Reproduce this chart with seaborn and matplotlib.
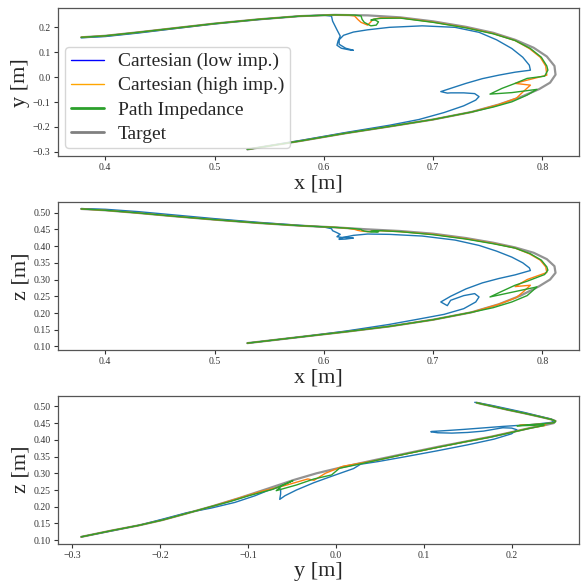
import matplotlib
matplotlib.use("Agg")
import matplotlib.pyplot as plt
from matplotlib.lines import Line2D
from matplotlib.ticker import MultipleLocator
import seaborn as sns

# target trajectory
target_x = [0.378, 0.400, 0.430, 0.460, 0.500, 0.540, 0.578, 0.610, 0.640, 0.670, 0.700, 0.730, 0.755, 0.775,
            0.792, 0.804, 0.811, 0.812, 0.807, 0.797, 0.780, 0.760, 0.735, 0.700, 0.660, 0.620, 0.580, 0.530]
target_y = [0.160, 0.166, 0.180, 0.195, 0.215, 0.232, 0.245, 0.250, 0.248, 0.240, 0.224, 0.202, 0.178, 0.150,
            0.118, 0.083, 0.045, 0.010, -0.022, -0.048, -0.080, -0.110, -0.140, -0.170, -0.198, -0.225, -0.255, -0.290]
target_z = [0.511, 0.507, 0.499, 0.490, 0.479, 0.469, 0.461, 0.456, 0.450, 0.445, 0.437, 0.424, 0.410, 0.396,
            0.380, 0.361, 0.340, 0.320, 0.300, 0.280, 0.252, 0.226, 0.202, 0.180, 0.160, 0.144, 0.129, 0.110]

# Cartesian, low impedance
low_x = [0.378, 0.400, 0.430, 0.460, 0.500, 0.540, 0.578, 0.600,
         0.607, 0.608, 0.612, 0.615, 0.613, 0.612, 0.616, 0.624, 0.627,
         0.620, 0.614, 0.614, 0.618, 0.627, 0.640, 0.660, 0.690, 0.720, 0.742, 0.758, 0.772, 0.782, 0.788, 0.789,
         0.775, 0.760, 0.745, 0.730, 0.716, 0.707, 0.713, 0.716, 0.728, 0.738, 0.742, 0.739, 0.728, 0.710,
         0.687, 0.660, 0.620, 0.580, 0.530]
low_y = [0.158, 0.163, 0.177, 0.193, 0.214, 0.231, 0.245, 0.249,
         0.245, 0.225, 0.190, 0.165, 0.145, 0.128, 0.116, 0.109, 0.108,
         0.116, 0.132, 0.150, 0.168, 0.181, 0.190, 0.200, 0.206, 0.200, 0.180, 0.150, 0.115, 0.080, 0.048, 0.028,
         0.020, 0.008, -0.006, -0.025, -0.045, -0.058, -0.064, -0.063, -0.063, -0.066, -0.078, -0.092, -0.115, -0.142,
         -0.170, -0.193, -0.222, -0.253, -0.290]
low_z = [0.512, 0.510, 0.503, 0.494, 0.482, 0.471, 0.462, 0.457,
         0.452, 0.446, 0.440, 0.435, 0.431, 0.428, 0.426, 0.425, 0.424,
         0.421, 0.420, 0.422, 0.426, 0.432, 0.436, 0.435, 0.430, 0.418, 0.402, 0.385, 0.367, 0.350, 0.335, 0.327,
         0.314, 0.303, 0.290, 0.272, 0.250, 0.233, 0.222, 0.238, 0.252, 0.258, 0.248, 0.233, 0.213, 0.196,
         0.182, 0.166, 0.146, 0.129, 0.110]

# Cartesian, high impedance
high_x = [0.378, 0.400, 0.430, 0.460, 0.500, 0.540, 0.578, 0.610,
          0.622, 0.628, 0.631, 0.634, 0.640, 0.643, 0.645, 0.652, 0.670, 0.700, 0.730, 0.755, 0.775, 0.788,
          0.798, 0.803, 0.804, 0.786, 0.775, 0.789, 0.782, 0.776, 0.760,
          0.735, 0.700, 0.660, 0.620, 0.580, 0.530]
high_y = [0.160, 0.166, 0.180, 0.195, 0.215, 0.232, 0.245, 0.250,
          0.249, 0.246, 0.232, 0.220, 0.209, 0.222, 0.232, 0.238, 0.238, 0.221, 0.199, 0.175, 0.147, 0.115,
          0.080, 0.045, 0.008, -0.012, -0.025, -0.032, -0.060, -0.085, -0.110,
          -0.140, -0.170, -0.198, -0.225, -0.255, -0.290]
high_z = [0.511, 0.507, 0.499, 0.490, 0.479, 0.469, 0.461, 0.456,
          0.453, 0.450, 0.447, 0.445, 0.443, 0.444, 0.445, 0.446, 0.443, 0.435, 0.422, 0.408, 0.394, 0.377,
          0.358, 0.338, 0.321, 0.300, 0.279, 0.283, 0.262, 0.246, 0.226,
          0.202, 0.180, 0.160, 0.144, 0.129, 0.110]

# path impedance
path_x = [0.378, 0.400, 0.430, 0.460, 0.500, 0.540, 0.578, 0.610,
          0.628, 0.634, 0.635, 0.637, 0.643, 0.648, 0.650, 0.647, 0.643, 0.646, 0.652, 0.670, 0.700, 0.730,
          0.755, 0.775, 0.789, 0.799, 0.804, 0.805, 0.802, 0.786, 0.775, 0.763, 0.752, 0.772, 0.795, 0.786,
          0.772, 0.755, 0.735, 0.700, 0.660, 0.620, 0.580, 0.530]
path_y = [0.160, 0.166, 0.180, 0.195, 0.215, 0.232, 0.245, 0.250,
          0.249, 0.246, 0.232, 0.220, 0.206, 0.209, 0.222, 0.229, 0.229, 0.233, 0.236, 0.237, 0.220, 0.198,
          0.174, 0.147, 0.115, 0.080, 0.045, 0.028, 0.004, -0.005, -0.025, -0.045, -0.068, -0.062, -0.049, -0.072,
          -0.099, -0.120, -0.140, -0.170, -0.198, -0.225, -0.255, -0.290]
path_z = [0.511, 0.507, 0.499, 0.490, 0.479, 0.469, 0.461, 0.456,
          0.452, 0.450, 0.447, 0.445, 0.442, 0.442, 0.443, 0.444, 0.444, 0.445, 0.446, 0.443, 0.434, 0.421,
          0.407, 0.394, 0.377, 0.358, 0.338, 0.328, 0.315, 0.295, 0.283, 0.265, 0.248, 0.262, 0.278, 0.252,
          0.233, 0.216, 0.202, 0.180, 0.160, 0.144, 0.129, 0.110]

labels = ["Cartesian (low imp.)", "Cartesian (high imp.)", "Path Impedance", "Target"]

sns.set_style("ticks")
plt.rcParams["font.family"] = "serif"
plt.rcParams["font.serif"] = ["Liberation Serif", "DejaVu Serif"]

fig, axes = plt.subplots(3, 1, figsize=(5.81, 5.82), dpi=100)
fig.subplots_adjust(left=0.099, right=0.997, top=0.986, bottom=0.066, hspace=0.309)

series = [
    (low_x, low_y, low_z, "tab:blue"),
    (high_x, high_y, high_z, "tab:orange"),
    (path_x, path_y, path_z, "tab:green"),
]
planes = [("x", "y"), ("x", "z"), ("y", "z")]

for ax, (h, v) in zip(axes, planes):
    # target underneath, a bit wider so it shows as a grey rim
    t = {"x": target_x, "y": target_y, "z": target_z}
    sns.lineplot(x=t[h], y=t[v], sort=False, estimator=None, color="gray", lw=1.6, alpha=0.85, ax=ax)
    for sx, sy, sz, c in series:
        d = {"x": sx, "y": sy, "z": sz}
        sns.lineplot(x=d[h], y=d[v], sort=False, estimator=None, color=c, lw=1.0, ax=ax)
    ax.set_xlabel(f"{h} [m]", fontsize=16, labelpad=2)
    ax.set_ylabel(f"{v} [m]", fontsize=16, labelpad=2)
    ax.tick_params(labelsize=7, length=3, width=0.8, colors="#333333", pad=2)
    for s in ax.spines.values():
        s.set_color("#555555")
        s.set_linewidth(0.9)
    ax.xaxis.set_major_locator(MultipleLocator(0.1))

axes[0].yaxis.set_major_locator(MultipleLocator(0.1))
axes[1].yaxis.set_major_locator(MultipleLocator(0.05))
axes[2].yaxis.set_major_locator(MultipleLocator(0.05))

handles = [
    Line2D([], [], color="blue", lw=1.0),
    Line2D([], [], color="orange", lw=1.0),
    Line2D([], [], color="tab:green", lw=2.0),
    Line2D([], [], color="gray", lw=2.0),
]
axes[0].legend(handles, labels, loc="lower left", fontsize=14, labelspacing=0.33,
               handlelength=1.7, handletextpad=0.7, borderpad=0.3, borderaxespad=0.4)

fig.savefig("out.png", dpi=100)
